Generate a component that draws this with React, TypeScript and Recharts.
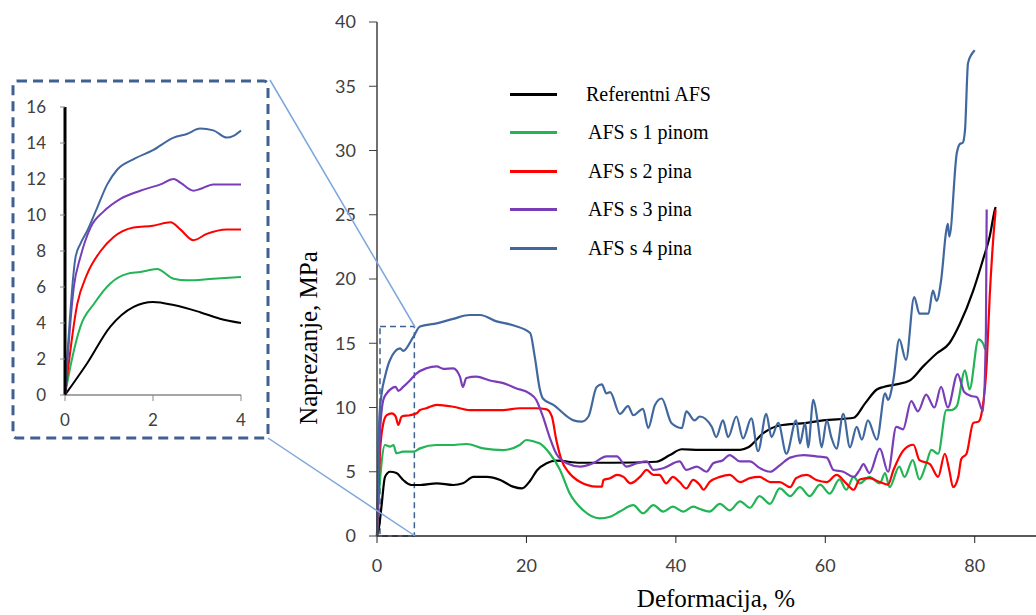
import React from 'react';
import { LineChart, Line, XAxis, YAxis, ReferenceArea } from 'recharts';

// glavni dijagram: [deformacija %, naprezanje MPa]
const referentni: [number, number][] = [
  [0, 0], [0.3, 0.8], [0.6, 2.3], [1.07, 4.6], [1.74, 5.0], [2.6, 4.9], [3.5, 4.36], [4.6, 3.97],
  [5.8, 3.97], [8.0, 4.1], [10.2, 3.97], [11.5, 4.1], [12.9, 4.6], [14.7, 4.6], [16.5, 4.36],
  [18.2, 3.84], [19.4, 3.7], [20.5, 4.3], [21.4, 5.1], [22.7, 5.66], [24.0, 5.86], [27.2, 5.7],
  [31.6, 5.7], [37.4, 5.78], [39.2, 6.3], [40.8, 6.75], [43.2, 6.7], [48.6, 6.7], [49.7, 6.9],
  [51.7, 8.0], [53.9, 8.6], [57.5, 8.8], [59.7, 9.0], [63.8, 9.2], [65.3, 10.3], [66.9, 11.4],
  [67.8, 11.6], [69.5, 11.8], [71.3, 12.1], [73.1, 13.2], [74.9, 14.2], [76.6, 15.0], [78.0, 16.5],
  [79.8, 19.1], [81.1, 21.5], [82.0, 23.3], [82.7, 25.4], [82.8, 25.6],
];

const jedanPin: [number, number][] = [
  [0, 0], [0.3, 3.5], [0.6, 5.66], [1.07, 7.08], [1.74, 6.95], [2.2, 7.08], [2.6, 6.44], [3.5, 6.56],
  [4.9, 6.56], [5.75, 6.82], [8.0, 7.08], [9.8, 7.08], [12.0, 7.16], [14.2, 6.82], [16.9, 6.69],
  [19.1, 7.08], [20.0, 7.47], [21.3, 7.3], [21.8, 7.2], [23.1, 6.44], [24.5, 5.14], [25.8, 3.3],
  [27.6, 2.0], [29.8, 1.37], [31.2, 1.5], [32.5, 1.9], [34.3, 2.4], [35.6, 1.77], [37.0, 2.4],
  [38.3, 1.9], [39.6, 2.28], [41.0, 1.9], [42.3, 2.28], [43.2, 2.1], [44.5, 1.9], [45.9, 2.5],
  [47.2, 2.0], [48.6, 2.7], [49.9, 2.2], [51.2, 3.1], [52.6, 2.5], [53.9, 3.7], [55.3, 3.1],
  [56.6, 3.8], [57.9, 3.1], [59.3, 4.0], [60.6, 3.3], [61.9, 4.4], [62.8, 3.6], [63.8, 4.6],
  [64.6, 4.1], [65.9, 4.6], [67.3, 4.1], [68.0, 4.9], [68.6, 3.8], [69.9, 5.4], [70.6, 4.6],
  [71.7, 5.9], [72.6, 4.4], [73.5, 5.6], [74.2, 6.7], [75.1, 6.4], [76.2, 9.8], [76.9, 9.8],
  [77.6, 10.1], [78.7, 12.9], [79.3, 11.4], [80.5, 15.3], [81.1, 15.0], [81.4, 14.5],
];

const dvaPina: [number, number][] = [
  [0, 0], [0.4, 6.5], [0.85, 8.77], [1.3, 9.4], [2.0, 9.55], [2.5, 9.3], [2.85, 8.64], [3.3, 9.3],
  [4.4, 9.4], [5.3, 9.55], [5.75, 9.8], [6.6, 9.94], [8.0, 10.2], [10.2, 10.06], [12.4, 9.8],
  [14.7, 9.8], [16.9, 9.8], [19.1, 9.94], [21.3, 9.94], [22.7, 9.86], [23.4, 9.3], [24.0, 7.47],
  [24.7, 5.9], [25.6, 5.0], [27.2, 4.2], [29.4, 3.84], [30.1, 3.84], [30.3, 4.36], [31.2, 4.5],
  [32.1, 4.75], [33.0, 4.6], [33.9, 4.1], [35.2, 4.6], [36.1, 5.14], [37.0, 4.75], [37.8, 4.75],
  [38.7, 4.1], [39.6, 4.6], [40.5, 4.2], [41.4, 3.7], [42.3, 4.36], [43.2, 3.97], [43.7, 3.6],
  [44.5, 4.2], [45.9, 4.6], [47.2, 4.75], [48.6, 4.2], [49.9, 4.5], [51.2, 4.6], [52.6, 4.2],
  [53.9, 4.2], [55.3, 3.8], [56.1, 4.5], [57.5, 4.75], [58.8, 4.36], [60.2, 4.2], [61.5, 4.75],
  [62.8, 4.1], [63.8, 3.6], [64.6, 4.4], [65.9, 4.5], [67.3, 4.2], [68.4, 4.0], [69.1, 5.1],
  [70.5, 6.7], [71.8, 7.1], [72.6, 5.9], [74.0, 5.6], [75.1, 4.6], [76.0, 6.4], [76.6, 5.1],
  [77.1, 3.8], [77.8, 4.6], [78.2, 6.0], [78.9, 6.4], [79.8, 8.8], [80.5, 8.9], [80.9, 9.5],
  [81.6, 13.4], [82.0, 18.6], [82.5, 23.3], [82.8, 25.4],
];

const triPina: [number, number][] = [
  [0, 0], [0.4, 8.0], [0.85, 10.6], [1.3, 11.1], [2.0, 11.5], [2.5, 11.6], [2.85, 11.3], [3.5, 11.6],
  [4.4, 12.1], [5.3, 12.66], [6.6, 13.05], [8.0, 13.2], [8.9, 13.0], [10.2, 13.05], [11.1, 12.4],
  [11.5, 11.6], [11.95, 12.3], [13.3, 12.4], [15.1, 12.1], [16.9, 11.9], [18.6, 11.5], [20.4, 11.1],
  [21.3, 10.6], [22.2, 9.3], [23.1, 7.7], [24.0, 6.4], [25.4, 5.66], [27.2, 5.4], [28.9, 5.66],
  [30.7, 6.2], [32.1, 6.2], [33.4, 5.4], [34.8, 5.66], [36.1, 5.8], [37.0, 5.14], [38.3, 5.27],
  [40.5, 5.8], [41.4, 5.14], [42.8, 5.4], [44.1, 5.0], [45.0, 5.66], [46.3, 5.9], [47.2, 6.3],
  [48.6, 5.8], [49.9, 5.8], [51.2, 5.3], [52.6, 5.0], [53.9, 5.5], [55.3, 6.1], [57.1, 6.3],
  [58.8, 6.2], [60.2, 6.1], [61.1, 5.14], [62.4, 5.0], [63.8, 4.6], [64.6, 5.14], [65.1, 5.6],
  [65.9, 4.9], [67.3, 6.8], [68.4, 5.0], [69.5, 8.5], [70.4, 8.3], [71.5, 10.5], [72.4, 9.7],
  [73.5, 11.0], [74.6, 10.0], [75.5, 11.6], [76.4, 10.0], [77.7, 12.6], [78.6, 11.2], [79.5, 10.9],
  [80.3, 10.8], [81.1, 9.7], [81.5, 16.0], [81.6, 25.4],
];

const cetiriPina: [number, number][] = [
  [0, 0], [0.3, 9.0], [0.6, 11.0], [1.07, 12.4], [1.74, 13.7], [3.1, 14.6], [3.5, 14.4], [4.86, 15.5],
  [5.75, 16.3], [8.0, 16.55], [10.2, 16.9], [12.4, 17.2], [13.8, 17.2], [16.0, 16.7], [18.2, 16.4],
  [20.5, 15.8], [21.1, 14.0], [21.8, 11.4], [22.2, 10.7], [23.6, 10.2], [26.3, 9.0], [27.4, 8.9],
  [28.3, 9.3], [29.4, 11.6], [30.1, 11.8], [30.7, 11.1], [31.2, 11.2], [32.5, 9.5], [33.6, 10.1],
  [34.3, 9.4], [35.6, 9.9], [36.3, 8.4], [37.2, 10.2], [38.1, 10.7], [39.4, 8.8], [40.8, 8.4],
  [41.4, 9.7], [42.5, 9.0], [43.2, 9.3], [44.8, 8.5], [45.4, 7.7], [46.3, 9.0], [47.0, 7.7],
  [48.1, 9.3], [49.0, 7.6], [50.1, 9.15], [51.0, 6.6], [52.1, 9.5], [52.8, 7.7], [53.7, 8.8],
  [54.8, 6.4], [56.1, 9.0], [56.6, 7.2], [57.3, 8.8], [57.7, 6.9], [58.4, 10.6], [59.0, 8.8],
  [59.5, 6.9], [60.2, 9.0], [60.8, 7.7], [61.5, 6.8], [62.4, 9.5], [63.3, 6.9], [64.2, 8.5],
  [64.9, 7.5], [65.7, 9.0], [66.9, 7.5], [68.0, 11.1], [68.4, 10.6], [69.1, 12.1], [69.9, 15.3],
  [70.8, 13.7], [71.9, 18.6], [72.6, 17.3], [73.8, 17.3], [74.4, 19.1], [74.9, 18.3], [75.5, 19.9],
  [76.2, 23.8], [76.4, 24.3], [76.6, 23.3], [77.6, 29.8], [78.0, 30.5], [78.4, 30.6], [78.7, 31.6],
  [79.1, 36.8], [79.6, 37.5], [80.0, 37.8],
];

// uvećani detalj 0-4 %
const insetReferentni: [number, number][] = [
  [0, 0], [0.5, 1.75], [1.03, 3.8], [1.56, 4.9], [2.0, 5.17], [2.47, 5.0], [3.07, 4.6], [3.52, 4.24], [4.0, 4.0],
];
const insetJedanPin: [number, number][] = [
  [0, 0], [0.15, 1.9], [0.35, 3.8], [0.66, 5.07], [1.03, 6.2], [1.41, 6.73], [1.71, 6.83], [2.09, 7.0],
  [2.47, 6.46], [2.77, 6.37], [3.37, 6.46], [4.0, 6.55],
];
const insetDvaPina: [number, number][] = [
  [0, 0], [0.28, 5.07], [0.5, 6.7], [0.81, 8.0], [1.1, 8.76], [1.56, 9.3], [2.0, 9.4], [2.4, 9.6],
  [2.62, 9.2], [2.92, 8.6], [3.22, 8.95], [3.68, 9.2], [4.0, 9.2],
];
const insetTriPina: [number, number][] = [
  [0, 0], [0.2, 6.0], [0.35, 7.66], [0.58, 9.3], [0.88, 10.2], [1.26, 10.9], [1.71, 11.35], [2.17, 11.7],
  [2.47, 12.0], [2.62, 11.8], [2.92, 11.35], [3.07, 11.44], [3.37, 11.7], [4.0, 11.7],
];
const insetCetiriPina: [number, number][] = [
  [0, 0], [0.24, 7.66], [0.35, 8.4], [0.5, 9.1], [0.73, 10.4], [0.96, 11.7], [1.18, 12.5], [1.56, 13.1],
  [2.0, 13.6], [2.47, 14.3], [2.77, 14.5], [3.07, 14.8], [3.37, 14.7], [3.68, 14.3], [3.83, 14.4], [4.0, 14.7],
];

const xTicks = [0, 20, 40, 60, 80];
const yTicks = [0, 5, 10, 15, 20, 25, 30, 35, 40];
const insetXTicks = [0, 2, 4];
const insetYTicks = [0, 2, 4, 6, 8, 10, 12, 14, 16];

const series = [
  { name: 'Referentni AFS', color: '#000000', main: referentni, inset: insetReferentni },
  { name: 'AFS s 1 pinom', color: '#22B455', main: jedanPin, inset: insetJedanPin },
  { name: 'AFS s 2 pina', color: '#FF0000', main: dvaPina, inset: insetDvaPina },
  { name: 'AFS s 3 pina', color: '#7A3DB8', main: triPina, inset: insetTriPina },
  { name: 'AFS s 4 pina', color: '#41689E', main: cetiriPina, inset: insetCetiriPina },
];

const toPoints = (arr: [number, number][]) => arr.map(([x, y]) => ({ x, y }));

const tickFont = { fontFamily: 'Lato, "Open Sans", sans-serif', fill: '#404040' };
const serif = '"Liberation Serif", "Times New Roman", serif';

export default function App() {
  return (
    <div style={{ position: 'absolute', left: 0, top: 0, width: 1036, height: 615, background: '#fff', overflow: 'hidden' }}>
      <div style={{ position: 'absolute', left: 0, top: 0 }}>
        <LineChart width={1036} height={615} margin={{ top: 22, right: 0, bottom: 49, left: 317 }}>
          <XAxis
            type="number"
            dataKey="x"
            domain={[0, 88.2]}
            ticks={xTicks}
            height={30}
            axisLine={{ stroke: '#222', strokeWidth: 1.5 }}
            tickLine={{ stroke: '#222' }}
            tickSize={7}
            tickMargin={16}
            tick={{ ...tickFont, fontSize: 18 }}
          />
          <YAxis
            type="number"
            domain={[0, 40]}
            ticks={yTicks}
            width={60}
            axisLine={{ stroke: '#404040', strokeWidth: 1.5 }}
            tickLine={{ stroke: '#404040' }}
            tickSize={8}
            tickMargin={13}
            tick={{ ...tickFont, fontSize: 18 }}
          />
          <ReferenceArea
            x1={0.4}
            x2={5}
            y1={0}
            y2={16.3}
            fill="none"
            stroke="#3E6190"
            strokeWidth={1.5}
            strokeDasharray="6 4"
            ifOverflow="visible"
          />
          {series.map((s) => (
            <Line
              key={s.name}
              data={toPoints(s.main)}
              dataKey="y"
              type="monotone"
              stroke={s.color}
              strokeWidth={2.2}
              dot={false}
              isAnimationActive={false}
            />
          ))}
        </LineChart>
      </div>

      <div style={{ position: 'absolute', left: 0, top: 0 }}>
        <LineChart width={270} height={440} margin={{ top: 107, right: 29, bottom: 15, left: 20 }}>
          <XAxis
            type="number"
            dataKey="x"
            domain={[0, 4]}
            ticks={insetXTicks}
            height={30}
            axisLine={{ stroke: '#888', strokeWidth: 1.5 }}
            tickLine={{ stroke: '#888' }}
            tickSize={6}
            tickMargin={13}
            tick={{ ...tickFont, fontSize: 17 }}
          />
          <YAxis
            type="number"
            domain={[0, 16]}
            ticks={insetYTicks}
            width={45}
            axisLine={{ stroke: '#000', strokeWidth: 3 }}
            tickLine={{ stroke: '#888' }}
            tickSize={5}
            tickMargin={14}
            tick={{ ...tickFont, fontSize: 17 }}
          />
          {series.map((s) => (
            <Line
              key={s.name}
              data={toPoints(s.inset)}
              dataKey="y"
              type="monotone"
              stroke={s.color}
              strokeWidth={2}
              dot={false}
              isAnimationActive={false}
            />
          ))}
        </LineChart>
      </div>

      <svg width={1036} height={615} style={{ position: 'absolute', left: 0, top: 0, pointerEvents: 'none' }}>
        <rect x={13} y={81} width={255} height={357} rx={4} fill="none" stroke="#3E6190" strokeWidth={3} strokeDasharray="10 6" />
        <line x1={270} y1={80} x2={415} y2={327} stroke="#7EA6DC" strokeWidth={1.5} />
        <line x1={268} y1={438} x2={415} y2={536} stroke="#7EA6DC" strokeWidth={1.5} />
        <text x={311} y={338} transform="rotate(-90 311 338)" textAnchor="middle" dominantBaseline="middle" fontFamily={serif} fontSize={25} fill="#000">
          Naprezanje, MPa
        </text>
        <text x={716} y={601} textAnchor="middle" dominantBaseline="middle" fontFamily={serif} fontSize={25} fill="#000">
          Deformacija, %
        </text>
      </svg>

      <div style={{ position: 'absolute', left: 510, top: 80, fontFamily: serif, fontSize: 20, color: '#000' }}>
        {series.map((s, i) => (
          <div key={s.name} style={{ position: 'absolute', left: 0, top: i * 38.5, display: 'flex', alignItems: 'center', height: 28, whiteSpace: 'nowrap' }}>
            <div style={{ width: 47, height: 3, background: s.color }} />
            <span style={{ marginLeft: i === 0 ? 29 : 31 }}>{s.name}</span>
          </div>
        ))}
      </div>
    </div>
  );
}
